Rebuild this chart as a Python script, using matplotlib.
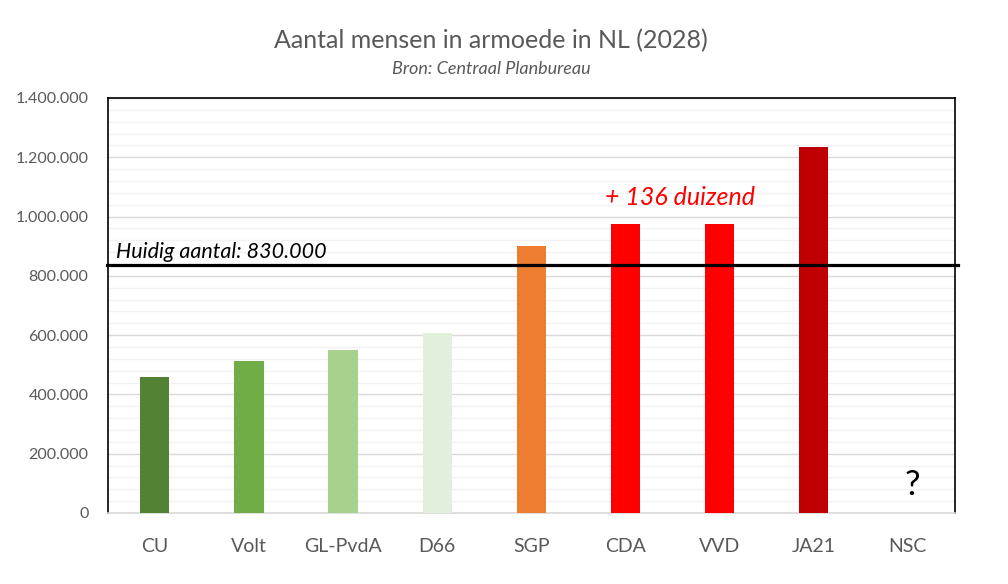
import numpy as np
import matplotlib.pyplot as plt
from matplotlib.ticker import FuncFormatter, MultipleLocator

# Aantal mensen in armoede per partijprogramma (CPB, 2028)
partijen = ['CU', 'Volt', 'GL-PvdA', 'D66', 'SGP', 'CDA', 'VVD', 'JA21', 'NSC']
aantallen = [459000, 513000, 550000, 607000, 901000, 975000, 975000, 1236000, np.nan]
kleuren = ['#548235', '#70AD47', '#A9D18E', '#E2EFDA', '#ED7D31',
           '#FF0000', '#FF0000', '#C00000', '#FFFFFF']
huidig = 836000
huidig_label = 'Huidig aantal: 830.000'
extra_label = '+ 136 duizend'

plt.rcParams['font.family'] = ['Lato', 'DejaVu Sans']
grijs = '#595959'

fig = plt.figure(figsize=(10.08, 5.84), dpi=100)
ax = fig.add_axes([0.107, 0.1216, 0.840, 0.7106])

x = np.arange(len(partijen))
ax.bar(x, np.nan_to_num(aantallen), width=0.31, color=kleuren, zorder=3)

ax.set_xlim(-0.5, len(partijen) - 0.5)
ax.set_ylim(0, 1400000)
ax.yaxis.set_major_locator(MultipleLocator(200000))
ax.yaxis.set_minor_locator(MultipleLocator(40000))
ax.yaxis.set_major_formatter(FuncFormatter(lambda v, p: f'{v:,.0f}'.replace(',', '.')))
ax.grid(axis='y', which='major', color='#D9D9D9', linewidth=1.0, zorder=0)
ax.grid(axis='y', which='minor', color='#F2F2F2', linewidth=1.0, zorder=0)

ax.set_xticks(x)
ax.set_xticklabels(partijen)
ax.tick_params(axis='x', length=0, pad=18, labelsize=14, labelcolor=grijs)
ax.tick_params(axis='y', which='both', length=0, pad=14, labelsize=11.5, labelcolor=grijs)

for side in ['left', 'right', 'top']:
    ax.spines[side].set_color('black')
    ax.spines[side].set_linewidth(1.2)
ax.spines['bottom'].set_color('#D9D9D9')
ax.spines['bottom'].set_linewidth(1.2)

# huidige niveau
ax.plot([-0.51, len(partijen) - 0.46], [huidig, huidig], color='black',
        linewidth=2.3, clip_on=False, zorder=5)
ax.text(-0.41, huidig + 10000, huidig_label, fontsize=15.5, style='italic',
        color='black', ha='left', va='bottom', zorder=6)
ax.text(5.58, 1063000, extra_label, fontsize=18, style='italic',
        color='#FF0000', ha='center', va='center', zorder=6)
ax.text(8.05, 94000, '?', fontsize=25, color='black', ha='center', va='center')

fig.text(0.487, 0.93, 'Aantal mensen in armoede in NL (2028)', fontsize=18,
         color=grijs, ha='center', va='center')
fig.text(0.487, 0.882, 'Bron: Centraal Planbureau', fontsize=13, style='italic',
         color=grijs, ha='center', va='center')

fig.savefig('out.png', dpi=100)
